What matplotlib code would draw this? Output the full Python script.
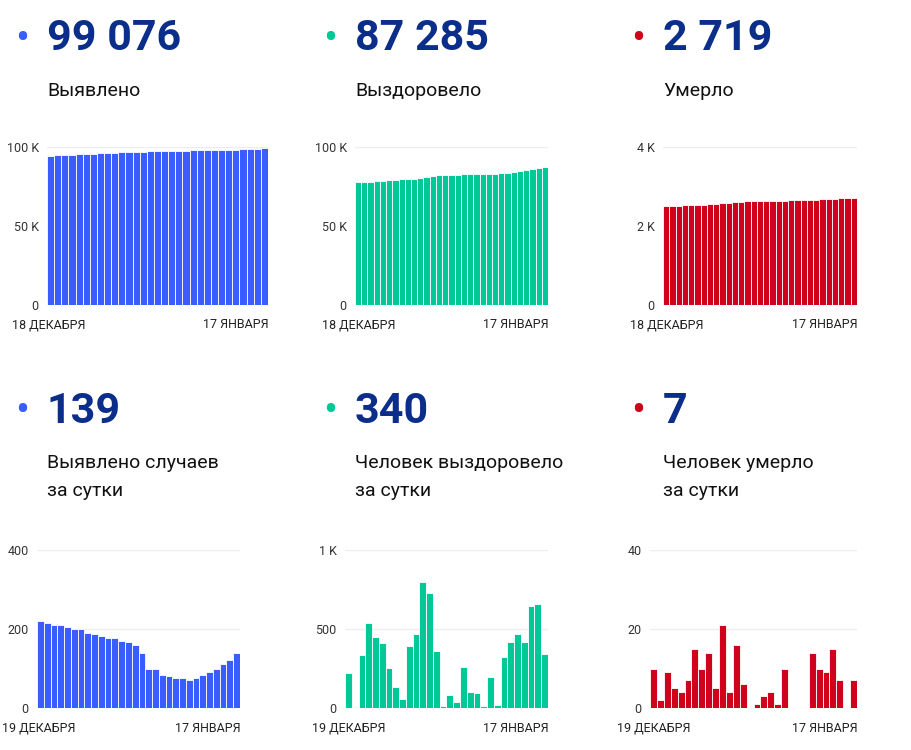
import matplotlib.pyplot as plt
from matplotlib.ticker import FuncFormatter

plt.rcParams['font.family'] = ['Roboto', 'DejaVu Sans']

W, H = 911, 750

cases_total = [94600, 94820, 95030, 95240, 95450, 95650, 95850, 96040, 96230, 96410,
               96590, 96760, 96930, 97090, 97250, 97390, 97490, 97590, 97670, 97750,
               97830, 97900, 97970, 98050, 98130, 98220, 98320, 98430, 98550, 98690, 99076]
recov_total = [77600, 77700, 77900, 78300, 78700, 79100, 79400, 79500, 79600, 80000,
               80400, 81200, 81900, 82300, 82300, 82400, 82400, 82700, 82800, 82900,
               82900, 83100, 83100, 83400, 83800, 84300, 84700, 85400, 86000, 86900, 87285]
death_total = [2500, 2510, 2512, 2521, 2526, 2530, 2537, 2552, 2562, 2576,
               2581, 2602, 2606, 2622, 2628, 2628, 2629, 2632, 2636, 2637,
               2647, 2647, 2647, 2647, 2661, 2671, 2680, 2695, 2702, 2712, 2719]
cases_day = [219, 215, 211, 210, 206, 199, 201, 190, 188, 182, 177, 176, 170, 167, 160,
             139, 100, 100, 83, 81, 77, 76, 71, 77, 83, 90, 100, 111, 121, 139]
recov_day = [220, 5, 335, 540, 450, 410, 255, 135, 55, 395, 470, 795, 725, 360, 15,
             85, 35, 260, 100, 95, 10, 195, 20, 320, 420, 470, 420, 645, 660, 340]
death_day = [10, 2, 9, 5, 4, 7, 15, 10, 14, 5, 21, 4, 16, 6, 0,
             1, 3, 4, 1, 10, 0, 0, 0, 14, 10, 9, 15, 7, 0, 7]

blue, green, red = '#3a5dff', '#00c896', '#d0021b'
navy = '#0b2e8a'

panels = [
    (cases_total, blue, '99 076', 'Выявлено', '18 ДЕКАБРЯ', 22, 47, 268, 20, 147, 305, 100000, [0, 50000, 100000]),
    (recov_total, green, '87 285', 'Выздоровело', '18 ДЕКАБРЯ', 330, 355, 548, 20, 147, 305, 100000, [0, 50000, 100000]),
    (death_total, red, '2 719', 'Умерло', '18 ДЕКАБРЯ', 638, 663, 857, 20, 147, 305, 4000, [0, 2000, 4000]),
    (cases_day, blue, '139', 'Выявлено случаев\nза сутки', '19 ДЕКАБРЯ', 22, 37, 240, 392, 550, 708, 400, [0, 200, 400]),
    (recov_day, green, '340', 'Человек выздоровело\nза сутки', '19 ДЕКАБРЯ', 330, 345, 548, 392, 550, 708, 1000, [0, 500, 1000]),
    (death_day, red, '7', 'Человек умерло\nза сутки', '19 ДЕКАБРЯ', 638, 650, 857, 392, 550, 708, 40, [0, 20, 40]),
]

def fmt(v, _):
    if v >= 1000:
        return f'{int(v/1000)} K'
    return f'{int(v)}'

fig = plt.figure(figsize=(W / 100, H / 100), dpi=100)

for vals, col, big, label, start, dotx, x0, x1, ytop, y0, y1, ymax, ticks in panels:
    # header
    fig.text((dotx) / W, 1 - (ytop + 20) / H, '•', color=col, fontsize=30, va='center', ha='center')
    fig.text((dotx + 25) / W, 1 - (ytop + 19) / H, big, color=navy, fontsize=31,
             fontweight='bold', va='center')
    fig.text((dotx + 25) / W, 1 - (ytop + 62) / H, label, color='#111111', fontsize=14,
             va='top', linespacing=1.75)

    ax = fig.add_axes([x0 / W, 1 - y1 / H, (x1 - x0) / W, (y1 - y0) / H])
    n = len(vals)
    ax.bar(range(n), vals, width=1.0, color=col, edgecolor='white', linewidth=0.6, alpha=1)
    ax.set_xlim(-0.5, n - 0.5)
    ax.set_ylim(0, ymax)
    ax.set_yticks(ticks)
    ax.yaxis.set_major_formatter(FuncFormatter(fmt))
    ax.grid(axis='y', color='#eeeeee', linewidth=1)
    ax.set_axisbelow(True)
    for s in ax.spines.values():
        s.set_visible(False)
    ax.tick_params(axis='y', length=0, labelsize=9, colors='#333333', pad=6)
    ax.set_xticks([])
    ax.text(-0.5, -0.1, start, transform=ax.get_xaxis_transform(), ha='center',
            va='center', fontsize=9, color='#222222', clip_on=False) if False else None
    fig.text((x0 - 35 if x0 < 300 else x0 - 33) / W, 1 - (y1 + 20) / H, start,
             fontsize=9, color='#222222', va='center')
    fig.text((x1 + 1) / W, 1 - (y1 + 20) / H, '17 ЯНВАРЯ', fontsize=9, color='#222222',
             va='center', ha='right')

fig.savefig('out.png', dpi=100, facecolor='white')
